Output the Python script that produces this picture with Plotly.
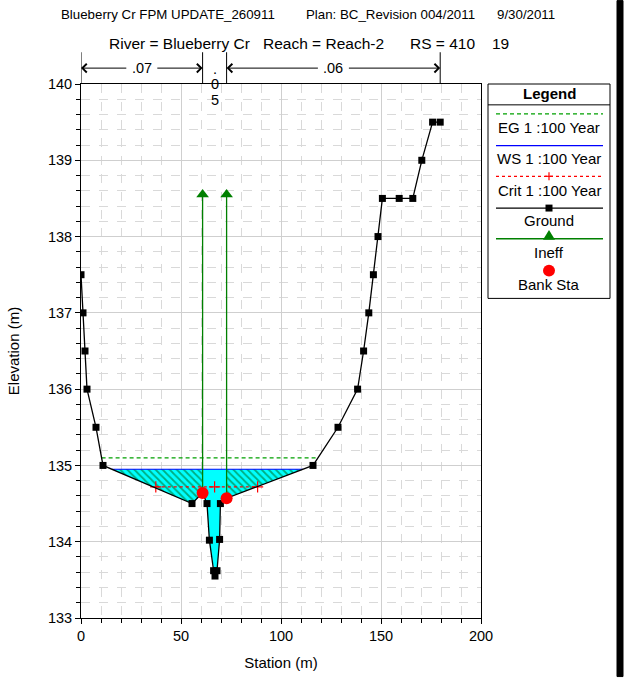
import numpy as np
import plotly.graph_objects as go

# ---------------- data ----------------
ground_sta = [0, 1, 2, 3, 7.5, 11, 55.5, 60.8, 63, 64.2, 66.3, 67, 68, 69.3, 69.7,
              72.8, 116, 128.5, 138.3, 141.3, 143.9, 146.2, 148.5, 150.7, 159.1,
              165.9, 170.4, 175.8, 179.6]
ground_elev = [137.5, 137.0, 136.5, 136.0, 135.5, 135.0, 134.5, 134.64, 134.5, 134.02,
               133.62, 133.55, 133.62, 134.03, 134.5, 134.57, 135.0, 135.5, 136.0,
               136.5, 137.0, 137.5, 138.0, 138.5, 138.5, 138.5, 139.0, 139.5, 139.5]
bank_sta = [60.8, 72.8]
bank_elev = [134.64, 134.57]
ws_elev = 134.95
eg_elev = 135.1
crit_elev = 134.72
crit_sta = [37.4, 66.8, 88.3]
ineff_sta = [60.8, 72.8]
ineff_elev = 138.55
n_sta = [0, 60.8, 72.8, 179.6]
n_vals = [".07", ".05", ".06"]

title1 = ["Blueberry Cr FPM UPDATE_260911", "Plan: BC_Revision 004/2011", "9/30/2011"]
title2 = ["River = Blueberry Cr", "Reach = Reach-2", "RS = 410", "19"]
legend_labels = ["EG 1 :100 Year", "WS 1 :100 Year", "Crit 1 :100 Year", "Ground", "Ineff", "Bank Sta"]

FONT = "Liberation Sans, Arial, sans-serif"

# ---------------- geometry helpers (page pixel coords) ----------------
W, H = 626, 681
L, R, T, B = 81, 481, 84, 622  # plot box in pixels
XR = [0, 200]
YR = [133, 140]


def PX(px):
    return (px - L) / (R - L)


def PY(py):
    return (B - py) / (B - T)


gx = np.array(ground_sta, float)
gy = np.array(ground_elev, float)
imin = int(np.argmin(gy))


def crossing(level, direction):
    i = imin
    while 0 <= i + direction < len(gx):
        j = i + direction
        if gy[j] >= level:
            t = (level - gy[i]) / (gy[j] - gy[i])
            return gx[i] + t * (gx[j] - gx[i])
        i = j
    return gx[i]


def wet_poly(x0, x1, level):
    inner = [(x, y) for x, y in zip(gx, gy) if x0 < x < x1]
    xs = [x0] + [p[0] for p in inner] + [x1]
    ys = [min(level, np.interp(x0, gx, gy))] + [p[1] for p in inner] + [min(level, np.interp(x1, gx, gy))]
    xs += [x1, x0, x0]
    ys += [level, level, ys[0]]
    return xs, ys


xl = crossing(ws_elev, -1)
xr = crossing(ws_elev, +1)
bl, br = bank_sta

fig = go.Figure()

# water areas
for (a, b, hatch) in [(xl, bl, True), (bl, br, False), (br, xr, True)]:
    px_, py_ = wet_poly(a, b, ws_elev)
    kw = dict(x=px_, y=py_, mode="lines", fill="toself", line=dict(width=0, color="rgba(0,0,0,0)"),
              fillcolor="#00ffff", hoverinfo="skip", showlegend=False)
    if hatch:
        kw["fillpattern"] = dict(shape="\\", bgcolor="#00ffff", fgcolor="#005a00", size=5, solidity=0.35)
    fig.add_trace(go.Scatter(**kw))

# EG
ex0, ex1 = crossing(eg_elev, -1), crossing(eg_elev, +1)
fig.add_trace(go.Scatter(x=[ex0, ex1], y=[eg_elev, eg_elev], mode="lines",
                         line=dict(color="#00a000", width=1.2, dash="4px,3px"), showlegend=False))
# WS
fig.add_trace(go.Scatter(x=[xl, xr], y=[ws_elev, ws_elev], mode="lines",
                         line=dict(color="#0000ff", width=1.2), showlegend=False))
# Crit
fig.add_trace(go.Scatter(x=crit_sta, y=[crit_elev] * len(crit_sta), mode="lines+markers",
                         line=dict(color="#ff0000", width=1.2, dash="dot"),
                         marker=dict(symbol="cross-thin", size=8, color="#ff0000",
                                     line=dict(color="#ff0000", width=1.2)),
                         showlegend=False))
# Ineff
for s in ineff_sta:
    base = float(np.interp(s, gx, gy))
    fig.add_trace(go.Scatter(x=[s, s], y=[base, ineff_elev], mode="lines",
                             line=dict(color="#008000", width=1.3), showlegend=False))
fig.add_trace(go.Scatter(x=ineff_sta, y=[ineff_elev] * len(ineff_sta), mode="markers",
                         marker=dict(symbol="triangle-up", size=11, color="#008000"), showlegend=False))
# Ground
fig.add_trace(go.Scatter(x=ground_sta, y=ground_elev, mode="lines+markers",
                         line=dict(color="black", width=1.3),
                         marker=dict(symbol="square", size=7, color="black"), showlegend=False))
# Bank stations
fig.add_trace(go.Scatter(x=bank_sta, y=bank_elev, mode="markers",
                         marker=dict(symbol="circle", size=12, color="#ff0000"), showlegend=False))

shapes = []
annots = []


def text(x, y, s, size, xref="paper", xanchor="center", **kw):
    annots.append(dict(xref=xref, yref="paper", x=x, y=y, text=s, showarrow=False,
                       xanchor=xanchor, yanchor="middle",
                       font=dict(family=FONT, size=size, color="black"), **kw))


# Manning's n guides
for s in n_sta:
    shapes.append(dict(type="line", xref="x", yref="paper", x0=s, x1=s, y0=PY(52), y1=PY(84),
                       line=dict(color="black", width=1)))
pxu = (R - L) / (XR[1] - XR[0])
for i, v in enumerate(n_vals):
    a, b = n_sta[i], n_sta[i + 1]
    mid = (a + b) / 2
    if (b - a) * pxu > 40:
        text(mid, PY(68), v, 14.5, xref="x")
        gap = 14
        annots.append(dict(xref="x", yref="paper", x=a, y=PY(68), text="", showarrow=True,
                           axref="pixel", ayref="pixel", ax=(mid - a) * pxu - gap, ay=0,
                           arrowhead=4, arrowsize=1.7, arrowwidth=1, arrowcolor="black"))
        annots.append(dict(xref="x", yref="paper", x=b, y=PY(68), text="", showarrow=True,
                           axref="pixel", ayref="pixel", ax=-((b - mid) * pxu - gap), ay=0,
                           arrowhead=4, arrowsize=1.7, arrowwidth=1, arrowcolor="black"))
    else:
        for k, ch in enumerate(v):
            text(mid, PY(69 + 15.5 * k), ch, 14.5, xref="x", height=14)

# titles
for txt, x0 in zip(title1, [59, 304, 495]):
    text(PX(x0), PY(14), txt, 13.3, xanchor="left")
for txt, x0 in zip(title2, [107, 261, 408, 490]):
    text(PX(x0), PY(43), txt, 15.5, xanchor="left")

# legend box
lx0, lx1, ly0, ly1 = 488, 610, 84, 300
lcx = (lx0 + lx1) / 2
shapes.append(dict(type="rect", xref="paper", yref="paper", x0=PX(lx0), x1=PX(lx1), y0=PY(ly1), y1=PY(ly0),
                   line=dict(color="black", width=1), fillcolor="white"))
shapes.append(dict(type="line", xref="paper", yref="paper", x0=PX(lx0), x1=PX(lx1), y0=PY(105), y1=PY(105),
                   line=dict(color="black", width=1)))
text(PX(lcx), PY(94), "<b>Legend</b>", 15)
sx0, sx1, scx = 496, 603, lcx
samp_y = [114, 146, 177, 209, 240, 272]
text_y = [128, 159, 191, 222, 254, 286]
for lab, ty in zip(legend_labels, text_y):
    text(PX(scx), PY(ty), lab, 15)


def hline(py, color, dash="solid", width=1.2):
    shapes.append(dict(type="line", xref="paper", yref="paper", x0=PX(sx0), x1=PX(sx1), y0=PY(py), y1=PY(py),
                       line=dict(color=color, width=width, dash=dash)))


hline(samp_y[0], "#00a000", "4px,3px")
hline(samp_y[1], "#0000ff")
hline(samp_y[2], "#ff0000", "dot")
shapes.append(dict(type="line", xref="paper", yref="paper", x0=PX(scx - 4), x1=PX(scx + 4),
                   y0=PY(samp_y[2]), y1=PY(samp_y[2]), line=dict(color="#ff0000", width=1.2)))
shapes.append(dict(type="line", xref="paper", yref="paper", x0=PX(scx), x1=PX(scx),
                   y0=PY(samp_y[2] - 4), y1=PY(samp_y[2] + 4), line=dict(color="#ff0000", width=1.2)))
hline(samp_y[3], "black")
shapes.append(dict(type="rect", xref="paper", yref="paper", x0=PX(scx - 3.5), x1=PX(scx + 3.5),
                   y0=PY(samp_y[3] + 3.5), y1=PY(samp_y[3] - 3.5), fillcolor="black", line=dict(width=0)))
hline(samp_y[4], "#008000", width=1.5)
ty = samp_y[4]
shapes.append(dict(type="path", xref="paper", yref="paper",
                   path=f"M {PX(scx-6)},{PY(ty+1)} L {PX(scx+6)},{PY(ty+1)} L {PX(scx)},{PY(ty-9)} Z",
                   fillcolor="#008000", line=dict(width=0)))
shapes.append(dict(type="circle", xref="paper", yref="paper", x0=PX(scx - 6), x1=PX(scx + 6),
                   y0=PY(samp_y[5] + 6), y1=PY(samp_y[5] - 6), fillcolor="#ff0000", line=dict(width=0)))

# right black edge bar
shapes.append(dict(type="rect", xref="paper", yref="paper", x0=PX(617), x1=PX(623), y0=PY(H), y1=PY(0),
                   fillcolor="black", line=dict(color="black", width=1)))

axis_common = dict(showline=True, linecolor="black", linewidth=1, mirror=True, ticks="outside",
                   ticklen=5, tickcolor="black", showgrid=True, gridcolor="#cfcfcf", gridwidth=1,
                   zeroline=False, tickfont=dict(family=FONT, size=14.5, color="black"))

fig.update_layout(
    width=W, height=H,
    margin=dict(l=L, r=W - R, t=T, b=H - B),
    paper_bgcolor="white", plot_bgcolor="white",
    showlegend=False,
    shapes=shapes, annotations=annots,
    xaxis=dict(range=XR, dtick=50, tick0=0,
               minor=dict(dtick=10, ticks="outside", ticklen=4, tickcolor="black", showgrid=True,
                          gridcolor="#d9d9d9", griddash="dash"),
               title=dict(text="Station (m)", font=dict(family=FONT, size=15, color="black"), standoff=14),
               **axis_common),
    yaxis=dict(range=YR, dtick=1, tick0=133,
               minor=dict(dtick=0.2, ticks="outside", ticklen=4, tickcolor="black", showgrid=True,
                          gridcolor="#d9d9d9", griddash="dash"),
               title=dict(text="Elevation (m)", font=dict(family=FONT, size=15, color="black"), standoff=24),
               **axis_common),
)

fig.write_html("out.html", config={"displayModeBar": False},
               post_script="document.body.style.margin='0px'; document.body.style.overflow='hidden';")
